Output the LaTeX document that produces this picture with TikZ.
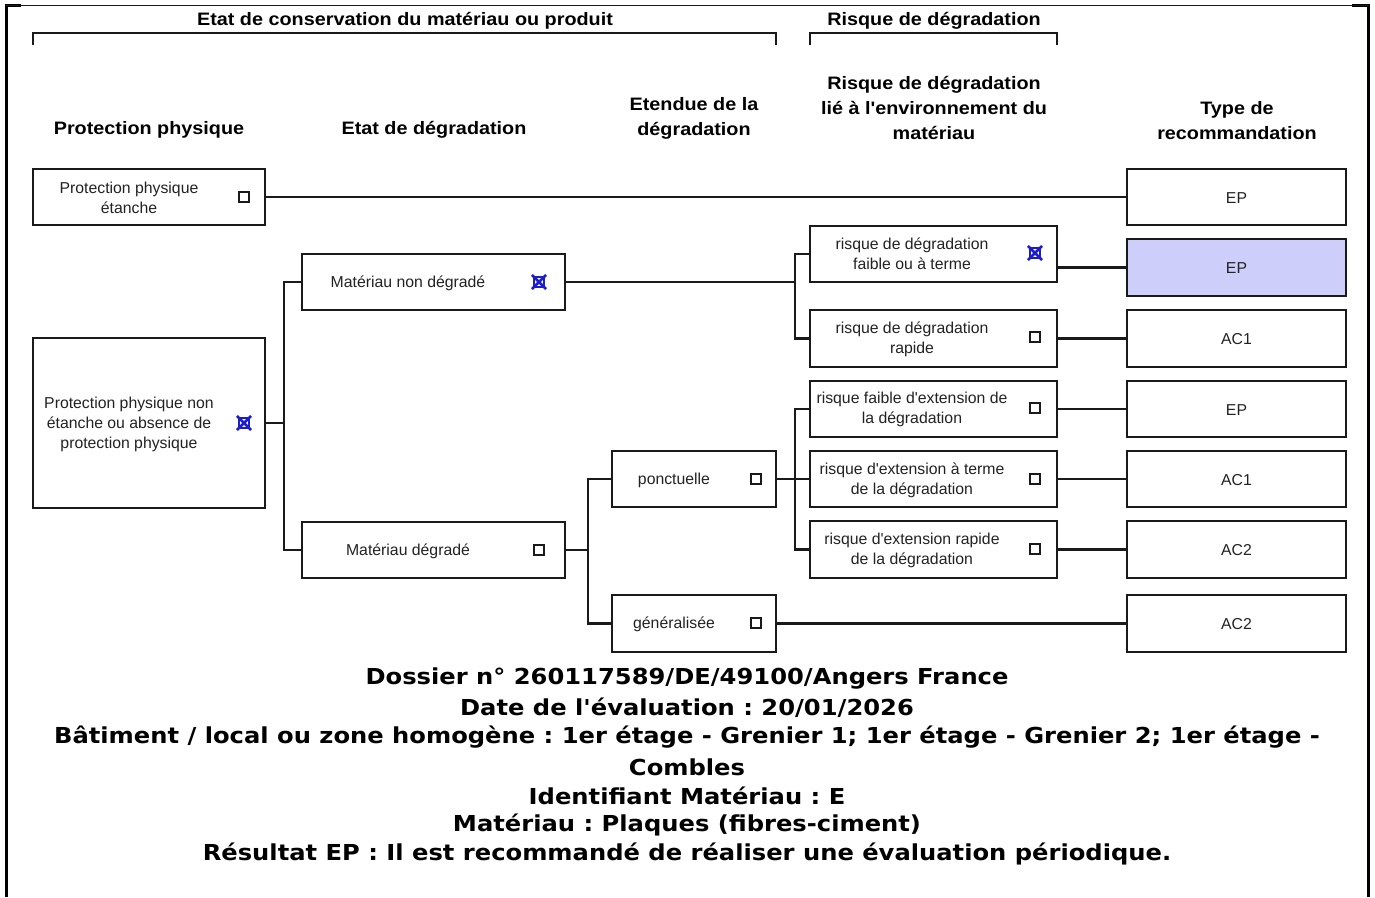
\documentclass[tikz,border=0pt]{standalone}
\usepackage{fontspec}
\setmainfont{Liberation Sans}
\newfontfamily\arialf{Liberation Sans}
\newfontfamily\arialw{Liberation Sans}[FakeStretch=1.1]
\newfontfamily\verd{DejaVu Sans}[FakeStretch=1.1]
\definecolor{lc}{RGB}{26,26,26}
\definecolor{tc}{RGB}{34,34,34}
\definecolor{xblue}{RGB}{30,30,200}
\definecolor{epfill}{RGB}{206,206,250}
\frenchspacing
\begin{document}
\frenchspacing
\begin{tikzpicture}[x=1pt,y=-1pt,
  bx/.style n args={2}{draw=lc, line width=2.2pt, minimum width=#1pt, minimum height=#2pt, inner sep=0pt, outer sep=0pt, anchor=north west},
  btxt/.style={text=tc, align=center, inner sep=0pt, font=\arialf\fontsize{15.8}{20}\selectfont},
  rtxt/.style={text=tc, inner sep=0pt, font=\arialf\fontsize{15.8}{20}\selectfont},
  hdr/.style={align=center, inner sep=0pt, font=\arialw\bfseries\fontsize{18}{25}\selectfont},
  tophdr/.style={inner sep=0pt, font=\arialw\bfseries\fontsize{18}{22}\selectfont},
  cb/.style={draw=lc, line width=1.1pt, minimum size=10pt, inner sep=0pt},
  cbx/.style={draw=xblue, line width=1.1pt, minimum size=10pt, inner sep=0pt},
  xmark/.style={draw=xblue, line width=2.6pt},
  conn/.style={draw=lc, line width=2.2pt},
  brk/.style={draw=lc, line width=2.2pt},
  frame/.style={draw=black, line width=3pt},
  bot/.style={inner sep=0pt, font=\verd\bfseries\fontsize{22}{29}\selectfont}
]
\useasboundingbox (0,0) rectangle (1375,897);

% outer frame
\coordinate (ftl) at (6,5);
\coordinate (ftr) at (1368,5);
\coordinate (fbl) at (6,897);
\coordinate (fbr) at (1368,897);
\draw[frame] (fbl) -- (ftl) -- ++(15,0);
\draw[frame] (fbr) -- (ftr) -- ++(-16,0);
\draw[draw=lc, line width=1pt] (ftl) -- (ftr);

% top brackets
\coordinate (b1a) at (33,45); \coordinate (b1b) at (33,33);
\coordinate (b1c) at (776,33); \coordinate (b1d) at (776,45);
\draw[brk] (b1a) -- (b1b) -- (b1c) -- (b1d);
\coordinate (b2a) at (810,45); \coordinate (b2b) at (810,33);
\coordinate (b2c) at (1057,33); \coordinate (b2d) at (1057,45);
\draw[brk] (b2a) -- (b2b) -- (b2c) -- (b2d);
\node[tophdr] (t1) at (405,21) {Etat de conservation du matériau ou produit};
\node[tophdr] (t2) at (934,21) {Risque de dégradation};

% column headers
\node[hdr] (h1) at (149,129.5) {Protection physique};
\node[hdr] (h2) at (434,129.5) {Etat de dégradation};
\node[hdr, anchor=south] (h3) at (694,140) {Etendue de la\\dégradation};
\node[hdr, anchor=south] (h4) at (934,140) {Risque de dégradation\\lié à l'environnement du\\matériau};
\node[hdr, anchor=south] (h5) at (1237,140) {Type de\\recommandation};

% boxes
\node[bx={232}{56}] (A) at (33,169) {};
\node[bx={232}{170}] (B) at (33,338) {};
\node[bx={263}{56}] (C) at (302,254) {};
\node[bx={263}{56}] (D) at (302,522) {};
\node[bx={164}{56}] (E) at (612,451) {};
\node[bx={164}{57}] (F) at (612,595) {};
\node[bx={247}{56}] (G) at (810,226) {};
\node[bx={247}{57}] (H) at (810,310) {};
\node[bx={247}{56}] (I) at (810,381) {};
\node[bx={247}{56}] (J) at (810,451) {};
\node[bx={247}{57}] (K) at (810,521) {};
\node[bx={219}{56}] (R1) at (1127,169) {};
\node[bx={219}{57}, fill=epfill] (R2) at (1127,239) {};
\node[bx={219}{57}] (R3) at (1127,310) {};
\node[bx={219}{56}] (R4) at (1127,381) {};
\node[bx={219}{56}] (R5) at (1127,451) {};
\node[bx={219}{57}] (R6) at (1127,521) {};
\node[bx={219}{57}] (R7) at (1127,595) {};

% box texts
\node[btxt] (tA) at (129,198) {Protection physique\\étanche};
\node[btxt] (tB) at (129,424) {Protection physique non\\étanche ou absence de\\protection physique};
\node[btxt] (tC) at (408,283) {Matériau non dégradé};
\node[btxt] (tD) at (408,551) {Matériau dégradé};
\node[btxt] (tE) at (674,480) {ponctuelle};
\node[btxt] (tF) at (674,624) {généralisée};
\node[btxt] (tG) at (912,254) {risque de dégradation\\faible ou à terme};
\node[btxt] (tH) at (912,339) {risque de dégradation\\rapide};
\node[btxt] (tI) at (912,409) {risque faible d'extension de\\la dégradation};
\node[btxt] (tJ) at (912,480) {risque d'extension à terme\\de la dégradation};
\node[btxt] (tK) at (912,550) {risque d'extension rapide\\de la dégradation};
\node[rtxt] (tR1) at ([yshift=-1pt]R1.center) {EP};
\node[rtxt] (tR2) at ([yshift=-1pt]R2.center) {EP};
\node[rtxt] (tR3) at ([yshift=-1pt]R3.center) {AC1};
\node[rtxt] (tR4) at ([yshift=-1pt]R4.center) {EP};
\node[rtxt] (tR5) at ([yshift=-1pt]R5.center) {AC1};
\node[rtxt] (tR6) at ([yshift=-1pt]R6.center) {AC2};
\node[rtxt] (tR7) at ([yshift=-1pt]R7.center) {AC2};

% checkboxes
\node[cb] (cA) at (244,197) {};
\node[cbx] (cB) at (244,423) {};
\node[cbx] (cC) at (539,282) {};
\node[cb] (cD) at (539,550) {};
\node[cb] (cE) at (756,479) {};
\node[cb] (cF) at (756,623) {};
\node[cbx] (cG) at (1035,253) {};
\node[cb] (cH) at (1035,337) {};
\node[cb] (cI) at (1035,408) {};
\node[cb] (cJ) at (1035,479) {};
\node[cb] (cK) at (1035,549) {};
\foreach \c in {cB,cC,cG}{
  \draw[xmark] ([shift={(-1.5pt,1.5pt)}]\c.north west) -- ([shift={(1.5pt,-1.5pt)}]\c.south east);
  \draw[xmark] ([shift={(1.5pt,1.5pt)}]\c.north east) -- ([shift={(-1.5pt,-1.5pt)}]\c.south west);
}

% connectors
\draw[conn] (A.east) -- (R1.west);

\coordinate (busB) at (284,423);
\draw[conn] (B.east) -- (busB);
\draw[conn] (C.west) -| (busB);
\draw[conn] (D.west) -| (busB);

\coordinate (busC) at (795,282);
\draw[conn] (C.east) -- (busC);
\draw[conn] (G.west) -| (busC);
\draw[conn] (H.west) -| (busC);
\draw[conn] (G.east |- R2.west) -- (R2.west);
\draw[conn] (H.east) -- (R3.west);

\coordinate (busD) at (588,550);
\draw[conn] (D.east) -- (busD);
\draw[conn] (E.west) -| (busD);
\draw[conn] (F.west) -| (busD);

\coordinate (busE) at (795,479);
\draw[conn] (E.east) -- (busE);
\draw[conn] (I.west) -| (busE);
\draw[conn] (J.west) -| (busE);
\draw[conn] (K.west) -| (busE);
\draw[conn] (I.east) -- (R4.west);
\draw[conn] (J.east) -- (R5.west);
\draw[conn] (K.east) -- (R6.west);
\draw[conn] (F.east) -- (R7.west);

% bottom text
\node[bot] (l1) at (687,679) {Dossier n° 260117589/DE/49100/Angers France};
\node[bot] (l2) at (687,708) {Date de l'évaluation : 20/01/2026};
\node[bot] (l3) at (687,737) {Bâtiment / local ou zone homogène : 1er étage - Grenier 1; 1er étage - Grenier 2; 1er étage -};
\node[bot] (l4) at (687,767) {Combles};
\node[bot] (l5) at (687,796) {Identifiant Matériau : E};
\node[bot] (l6) at (687,825) {Matériau : Plaques (fibres-ciment)};
\node[bot] (l7) at (687,854) {Résultat EP : Il est recommandé de réaliser une évaluation périodique.};
\end{tikzpicture}
\end{document}
